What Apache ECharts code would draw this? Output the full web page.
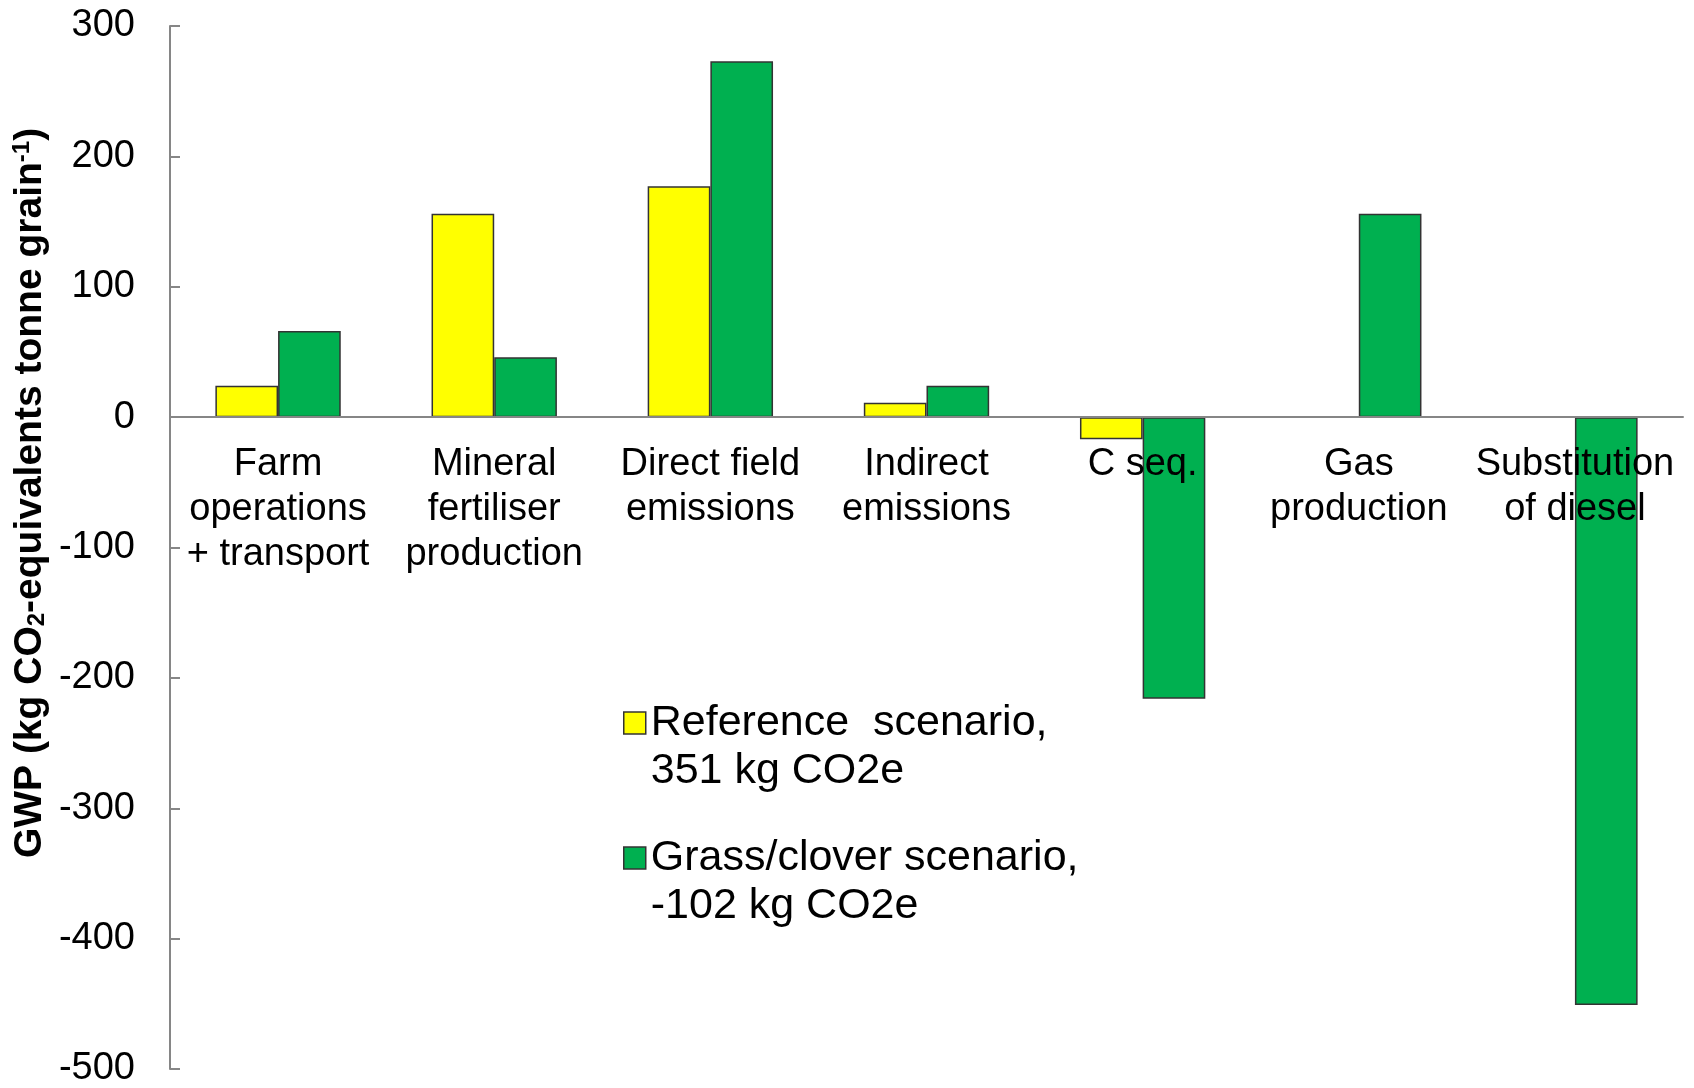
<!DOCTYPE html>
<html><head><meta charset="utf-8">
<script src="https://cdn.jsdelivr.net/npm/echarts@6/dist/echarts.min.js"></script>
<style>html,body{margin:0;padding:0;background:#fff}#c{width:1694px;height:1088px}</style>
</head><body><div id="c"></div>
<script>
const categories = ['Farm\noperations\n+ transport', 'Mineral\nfertiliser\nproduction', 'Direct field\nemissions', 'Indirect\nemissions', 'C seq.', 'Gas\nproduction', 'Substitution\nof diesel'];
const referenceValues = [24, 156, 177, 11, -17, null, null];
const grassCloverValues = [66, 46, 273, 24, -216, 156, -451];
const seriesNames = ['Reference  scenario,\n351 kg CO2e', 'Grass/clover scenario,\n-102 kg CO2e'];
const yMin = -500, yMax = 300, yInterval = 100;

const FONT = '"Liberation Sans", Arial, Helvetica, sans-serif';
const W = 1694, H = 1088;
const GRID = { left: 170, right: 11, top: 26, bottom: 19 };
const plotH = H - GRID.top - GRID.bottom;
// move the category axis (line + labels) up to the value 0 of the value axis
const zeroOffset = -((0 - yMin) / (yMax - yMin)) * plotH;

const chart = echarts.init(document.getElementById('c'));
const legendBase = {
  orient: 'vertical', left: 618, itemWidth: 22, itemHeight: 22, icon: 'rect',
  itemStyle: { borderColor: '#333', borderWidth: 1.5 },
  formatter: n => '\n' + n,
  textStyle: { fontSize: 43, lineHeight: 48, fontFamily: FONT, color: '#000' },
  selectedMode: false
};
chart.setOption({
  animation: false,
  backgroundColor: '#fff',
  grid: Object.assign({ containLabel: false, outerBoundsMode: 'none' }, GRID),
  xAxis: {
    type: 'category', data: categories, position: 'bottom', offset: zeroOffset, z: 5,
    axisLine: { onZero: false, lineStyle: { color: '#868686', width: 2 } },
    axisTick: { show: false },
    axisLabel: { interval: 0, fontSize: 38, lineHeight: 45, margin: 25, color: '#000', fontFamily: FONT }
  },
  yAxis: {
    type: 'value', min: yMin, max: yMax, interval: yInterval,
    splitLine: { show: false },
    axisLine: { show: true, lineStyle: { color: '#868686', width: 2 } },
    axisTick: { show: true, inside: true, length: 10, lineStyle: { color: '#868686', width: 2 } },
    axisLabel: { fontSize: 38, margin: 35, color: '#000', fontFamily: FONT }
  },
  legend: [
    Object.assign({}, legendBase, { top: 718 - 72, data: [seriesNames[0]] }),
    Object.assign({}, legendBase, { top: 853 - 72, data: [seriesNames[1]] })
  ],
  graphic: [{
    type: 'text', x: 30, y: 493, rotation: Math.PI / 2,
    style: {
      text: 'GWP (kg CO{sub|2}-equivalents tonne grain{sup|-1})',
      fontSize: 39, fontWeight: 'bold', fontFamily: FONT, fill: '#000',
      align: 'center', verticalAlign: 'middle',
      rich: {
        sub: { fontSize: 24, fontWeight: 'bold', fontFamily: FONT, verticalAlign: 'bottom', fill: '#000' },
        sup: { fontSize: 24, fontWeight: 'bold', fontFamily: FONT, verticalAlign: 'top', fill: '#000' }
      }
    }
  }],
  series: [
    { name: seriesNames[0], type: 'bar', data: referenceValues, barGap: '0%', barCategoryGap: '42%',
      itemStyle: { color: '#FFFF00', borderColor: '#333', borderWidth: 1.5 } },
    { name: seriesNames[1], type: 'bar', data: grassCloverValues, barGap: '0%', barCategoryGap: '42%',
      itemStyle: { color: '#00B050', borderColor: '#333', borderWidth: 1.5 } }
  ]
});
</script></body></html>
